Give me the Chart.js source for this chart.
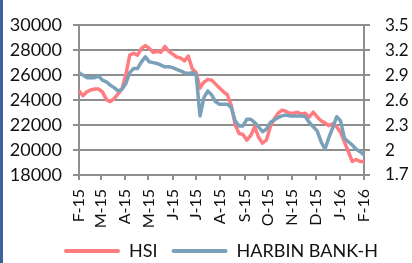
<!DOCTYPE html>
<html>
<head>
<meta charset="utf-8">
<script src="https://cdn.jsdelivr.net/npm/chart.js@4/dist/chart.umd.min.js"></script>
<style>
    html, body { margin: 0; padding: 0; background: #fff; }
    #wrap { position: relative; width: 412px; height: 263px; }
    #stripe { position: absolute; left: 0; top: 0; width: 3px; height: 263px; background: #3f6197; }
</style>
</head>
<body>
<div id="wrap">
    <canvas id="chart" width="412" height="263"></canvas>
    <div id="stripe"></div>
</div>
<script>
// days counted from 1 Feb 2015
const days = [0, 5, 10, 15, 20, 25, 30, 35, 40, 45, 50, 55, 60, 65, 70, 75, 80, 85, 90, 95,
    100, 105, 110, 115, 120, 125, 130, 135, 140, 145, 150, 155, 160, 165, 170, 175, 180, 185, 190, 195,
    200, 205, 210, 215, 220, 225, 230, 235, 240, 245, 250, 255, 260, 265, 270, 275, 280, 285, 290, 295,
    300, 305, 310, 315, 320, 325, 330, 335, 340, 345, 350, 355, 360, 365];

const hsi = [24740, 24350, 24660, 24810, 24890, 24890, 24660, 24040, 23880, 24120,
    24500, 24890, 26050, 27600, 27750, 27600, 28140, 28370, 28140, 27830,
    27910, 27830, 28300, 27910, 27680, 27450, 27370, 27140, 27520, 26520,
    26210, 24970, 25430, 25660, 25590, 25280, 24970, 24660, 24430, 23570,
    22030, 21330, 21250, 20790, 21170, 21870, 21020, 20550, 20790, 21870,
    22490, 22950, 23190, 23110, 22950, 22950, 23030, 22880, 22950, 22650,
    23030, 22650, 22340, 22180, 21950, 22100, 21870, 21410, 20630, 19860,
    19080, 19240, 19080, 19080];

const harbin = [2.93, 2.90, 2.87, 2.87, 2.87, 2.89, 2.84, 2.82, 2.78, 2.75,
    2.71, 2.73, 2.80, 2.93, 2.98, 2.98, 3.06, 3.12, 3.06, 3.05,
    3.04, 3.02, 3.00, 3.00, 2.99, 2.97, 2.95, 2.93, 2.92, 2.93,
    2.91, 2.41, 2.63, 2.71, 2.66, 2.58, 2.55, 2.55, 2.55, 2.51,
    2.35, 2.29, 2.29, 2.37, 2.37, 2.33, 2.28, 2.22, 2.25, 2.33,
    2.36, 2.39, 2.41, 2.42, 2.41, 2.41, 2.41, 2.41, 2.40, 2.33,
    2.28, 2.23, 2.10, 2.01, 2.15, 2.27, 2.40, 2.35, 2.14, 2.10,
    2.06, 2.01, 1.98, 1.94];

const monthDays = [0, 28, 59, 89, 120, 150, 181, 212, 242, 273, 303, 334, 365];
const monthLabels = ["F-15", "M-15", "A-15", "M-15", "J-15", "J-15", "A-15", "S-15", "O-15", "N-15", "D-15", "J-16", "F-16"];
const leftTicks = [18000, 20000, 22000, 24000, 26000, 28000, 30000];
const rightTicks = [1.7, 2, 2.3, 2.6, 2.9, 3.2, 3.5];

const red = "#ff7c80";
const blue = "#7aa0ba";
const axisGray = "#8e8e8e";
const textColor = "#111111";

function toPoints(values) {
    return values.map((v, i) => ({ x: days[i], y: v }));
}

// the legend in the picture sits a little right of the canvas centre
const legendShift = {
    id: "legendShift",
    afterLayout(chart) {
        chart.legend.left += 15;
        chart.legend.right += 15;
    }
};

const chart = new Chart(document.getElementById("chart"), {
    type: "line",
    data: {
        datasets: [
            {
                label: "HSI",
                data: toPoints(hsi),
                yAxisID: "y",
                borderColor: red,
                backgroundColor: red,
                order: 1
            },
            {
                label: "HARBIN BANK-H",
                data: toPoints(harbin),
                yAxisID: "y1",
                borderColor: blue,
                backgroundColor: blue,
                order: 0
            }
        ]
    },
    plugins: [legendShift],
    options: {
        responsive: false,
        animation: false,
        events: [],
        layout: { padding: { left: 0, right: 0, top: 5, bottom: 5 } },
        elements: {
            line: { borderWidth: 3.5, tension: 0, borderJoinStyle: "round", borderCapStyle: "round" },
            point: { radius: 0 }
        },
        plugins: {
            tooltip: { enabled: false },
            legend: {
                position: "bottom",
                reverse: true,
                maxHeight: 30,
                labels: {
                    font: { family: "Lato", size: 18 },
                    color: textColor,
                    boxWidth: 56,
                    boxHeight: 4,
                    padding: 14,
                    generateLabels: (c) => Chart.defaults.plugins.legend.labels.generateLabels(c).map((item) => ({
                        ...item,
                        lineWidth: 0,
                        borderRadius: 2
                    }))
                }
            }
        },
        scales: {
            x: {
                type: "linear",
                min: 0,
                max: 365,
                afterBuildTicks: (axis) => { axis.ticks = monthDays.map((v) => ({ value: v })); },
                afterFit: (axis) => { axis.height = 53; },
                ticks: {
                    autoSkip: false,
                    minRotation: 90,
                    maxRotation: 90,
                    padding: 9,
                    color: textColor,
                    font: { family: "Lato", size: 16 },
                    callback: (value, index) => monthLabels[index]
                },
                grid: { drawOnChartArea: false, drawTicks: true, tickLength: 5, color: axisGray, lineWidth: 2 },
                border: { display: true, color: axisGray, width: 2 }
            },
            y: {
                position: "left",
                min: 18000,
                max: 30000,
                afterBuildTicks: (axis) => { axis.ticks = leftTicks.map((v) => ({ value: v })); },
                afterFit: (axis) => { axis.width = 79; },
                ticks: {
                    padding: 11,
                    color: textColor,
                    font: { family: "Lato", size: 18 },
                    callback: (value) => String(value)
                },
                grid: { color: axisGray, lineWidth: 2, tickLength: 6 },
                border: { display: true, color: axisGray, width: 2 }
            },
            y1: {
                position: "right",
                min: 1.7,
                max: 3.5,
                afterBuildTicks: (axis) => { axis.ticks = rightTicks.map((v) => ({ value: v })); },
                afterFit: (axis) => { axis.width = 48; },
                ticks: {
                    padding: 15,
                    color: textColor,
                    font: { family: "Lato", size: 17 },
                    callback: (value) => String(value)
                },
                grid: { drawOnChartArea: false, color: axisGray, lineWidth: 2, tickLength: 6 },
                border: { display: true, color: axisGray, width: 2 }
            }
        }
    }
});
</script>
</body>
</html>
